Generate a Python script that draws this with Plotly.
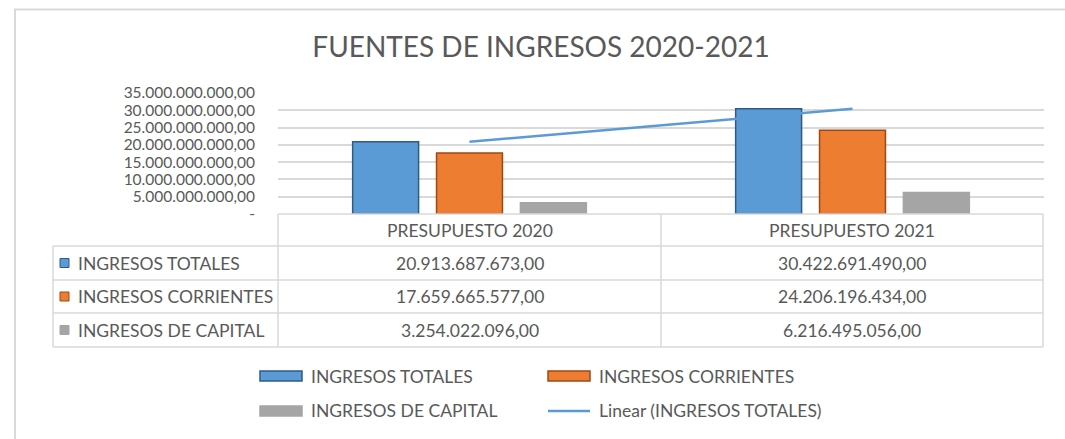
import numpy as np
import plotly.graph_objects as go

# ---- data ----
categories = ["PRESUPUESTO 2020", "PRESUPUESTO 2021"]
series_names = ["INGRESOS TOTALES", "INGRESOS CORRIENTES", "INGRESOS DE CAPITAL"]
ingresos_totales = [20913687673.00, 30422691490.00]
ingresos_corrientes = [17659665577.00, 24206196434.00]
ingresos_capital = [3254022096.00, 6216495056.00]
y_tickvals = [0, 5e9, 10e9, 15e9, 20e9, 25e9, 30e9, 35e9]
y_ticktext = ["-", "5.000.000.000,00", "10.000.000.000,00", "15.000.000.000,00",
              "20.000.000.000,00", "25.000.000.000,00", "30.000.000.000,00",
              "35.000.000.000,00"]
title_text = "FUENTES DE INGRESOS 2020-2021"
trend_name = "Linear (INGRESOS TOTALES)"

# ---- styles ----
FONT = "Lato"
TXT = "#595959"
GRID = "#D9D9D9"
colors = ["#5B9BD5", "#ED7D31", "#A5A5A5"]
edge = ["#2E5B86", "#9C4A15", "#A5A5A5"]
FS = 17.5
FS_TICK = 15.5

W_FIG, H_FIG = 1065, 439
L, R, T, B = 278, 1044, 93, 214
PW, PH = R - L, B - T


def px(x):
    return (x - L) / PW


def py(y):
    return (B - y) / PH


def es_num(v):
    s = f"{v:,.2f}"
    return s.replace(",", "X").replace(".", ",").replace("X", ".")


fig = go.Figure()
all_series = [ingresos_totales, ingresos_corrientes, ingresos_capital]
for name, vals, c, e in zip(series_names, all_series, colors, edge):
    fig.add_trace(go.Bar(
        x=categories, y=vals, name=name,
        marker=dict(color=c, line=dict(color=e, width=1.5)),
        showlegend=False, hoverinfo="y+name",
    ))

# linear trendline of INGRESOS TOTALES
xi = np.arange(1, len(categories) + 1)
m, b0 = np.polyfit(xi, ingresos_totales, 1)
trend = m * xi + b0
fig.add_trace(go.Scatter(
    x=categories, y=trend, mode="lines", name=trend_name,
    line=dict(color="#5B9BD5", width=2.5), showlegend=False,
))

shapes = []
annotations = []

# outer chart border (top + left visible)
shapes.append(dict(type="rect", xref="paper", yref="paper",
                   x0=px(15), x1=px(1075), y0=py(450), y1=py(9.5),
                   line=dict(color="#D9D9D9", width=2), layer="below"))

# data table grid
row_lines = [246, 280, 313, 347]
line_style = dict(color=GRID, width=1.5)
shapes.append(dict(type="line", xref="paper", yref="paper",
                   x0=px(L), x1=px(1043), y0=py(214), y1=py(214), line=line_style))
for yl in row_lines:
    shapes.append(dict(type="line", xref="paper", yref="paper",
                       x0=px(53), x1=px(1043), y0=py(yl), y1=py(yl), line=line_style))
shapes.append(dict(type="line", xref="paper", yref="paper",
                   x0=px(53), x1=px(53), y0=py(246), y1=py(347), line=line_style))
for xl in [L, 661, 1043]:
    shapes.append(dict(type="line", xref="paper", yref="paper",
                       x0=px(xl), x1=px(xl), y0=py(214), y1=py(347), line=line_style))

col_centers = [470, 852]
# header
for cat, cx in zip(categories, col_centers):
    annotations.append(dict(text=cat, x=px(cx), y=py(230.5), xref="paper", yref="paper",
                            showarrow=False, xanchor="center", yanchor="middle",
                            font=dict(family=FONT, size=FS, color=TXT)))
row_centers = [263, 296.5, 330]
for name, vals, c, e, ry in zip(series_names, all_series, colors, edge, row_centers):
    shapes.append(dict(type="rect", xref="paper", yref="paper",
                       x0=px(60), x1=px(69), y0=py(ry + 4.5), y1=py(ry - 4.5),
                       fillcolor=c, line=dict(color=e, width=1)))
    annotations.append(dict(text=name, x=px(76), y=py(ry), xref="paper", yref="paper",
                            showarrow=False, xanchor="left", yanchor="middle",
                            font=dict(family=FONT, size=FS, color=TXT)))
    for v, cx in zip(vals, col_centers):
        annotations.append(dict(text=es_num(v), x=px(cx), y=py(ry), xref="paper", yref="paper",
                                showarrow=False, xanchor="center", yanchor="middle",
                                font=dict(family=FONT, size=FS, color=TXT)))

# legend (manual)
leg_items = [
    (series_names[0], 260, 376, "bar", 0),
    (series_names[1], 548, 376, "bar", 1),
    (series_names[2], 260, 411, "bar", 2),
    (trend_name, 548, 411, "line", 0),
]
for name, lx, ly, kind, ci in leg_items:
    if kind == "bar":
        shapes.append(dict(type="rect", xref="paper", yref="paper",
                           x0=px(lx), x1=px(lx + 42), y0=py(ly + 5), y1=py(ly - 5),
                           fillcolor=colors[ci], line=dict(color=edge[ci], width=1.5)))
    else:
        shapes.append(dict(type="line", xref="paper", yref="paper",
                           x0=px(lx), x1=px(lx + 42), y0=py(ly), y1=py(ly),
                           line=dict(color="#5B9BD5", width=2.5)))
    annotations.append(dict(text=name, x=px(lx + 49), y=py(ly), xref="paper", yref="paper",
                            showarrow=False, xanchor="left", yanchor="middle",
                            font=dict(family=FONT, size=FS, color=TXT)))

fig.update_layout(
    width=W_FIG, height=H_FIG,
    margin=dict(l=L, r=W_FIG - R, t=T, b=H_FIG - B, pad=0),
    paper_bgcolor="white", plot_bgcolor="white",
    barmode="group", bargap=0.343, bargroupgap=0.214,
    title=dict(text=title_text, x=541 / W_FIG, xref="container", xanchor="center",
               y=1 - 47 / H_FIG, yref="container", yanchor="middle",
               font=dict(family=FONT, size=28, color=TXT)),
    font=dict(family=FONT, color=TXT),
    shapes=shapes, annotations=annotations,
    showlegend=False,
)
fig.update_xaxes(showticklabels=False, showgrid=False, zeroline=False, showline=False)
fig.update_yaxes(range=[0, 35e9], tickvals=y_tickvals, ticktext=y_ticktext,
                 showgrid=True, gridcolor=GRID, gridwidth=1.5, zeroline=False,
                 showline=False, ticks="", ticklabelstandoff=22,
                 tickfont=dict(family=FONT, size=FS_TICK, color=TXT))

fig.write_html("out.html", config={"displayModeBar": False},
               post_script="document.body.style.margin='0';")
